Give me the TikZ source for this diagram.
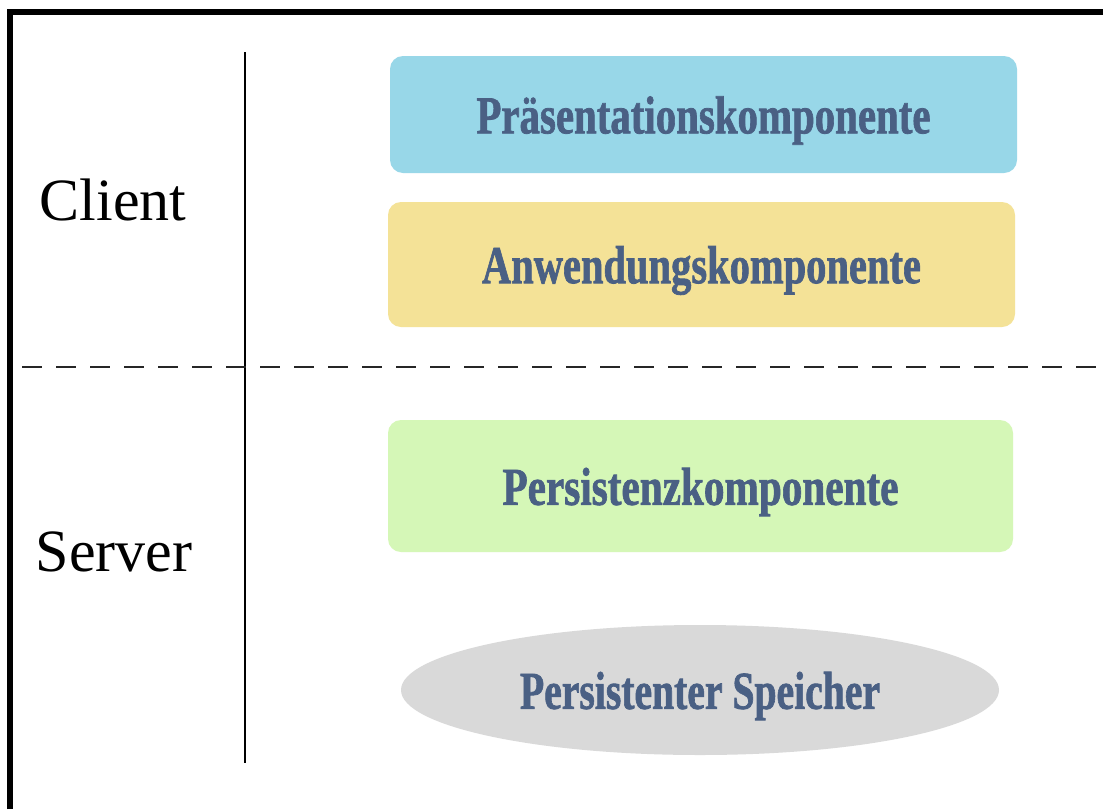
\documentclass[tikz,border=0pt]{standalone}
\usepackage{fontspec}
\setmainfont{Liberation Serif}
\newfontfamily\compfont[FakeBold=1.5]{Liberation Serif}
\usetikzlibrary{shapes.geometric}
\definecolor{txtblue}{RGB}{74,96,132}
\definecolor{cblue}{RGB}{152,215,232}
\definecolor{cyellow}{RGB}{244,226,151}
\definecolor{cgreen}{RGB}{213,247,183}
\definecolor{cgray}{RGB}{217,217,217}
\newcommand\comptxt[2]{\raisebox{-6pt}[\height][\depth]{\resizebox{#1}{37pt}{\compfont\bfseries #2}}}
\tikzset{
  compbox/.style={rectangle, rounded corners=13pt, inner sep=0pt, text=txtblue},
  storebox/.style={ellipse, inner sep=0pt, text=txtblue},
  sidelabel/.style={inner sep=0pt, font=\fontsize{60}{70}\selectfont, text=black},
}
\begin{document}
\begin{tikzpicture}[x=1pt,y=-1pt]
\useasboundingbox (0,0) rectangle (1103,809);
\fill[white] (0,0) rectangle (1103,809);
% frame (left and top edges)
\draw[line width=6pt, line join=miter] (10,809) -- (10,12) -- (1103,12);
% separators
\coordinate (vtop) at (245,52);
\coordinate (vbot) at (245,763);
\coordinate (hleft) at (22,367);
\coordinate (hright) at (1103,367);
\draw[line width=1.6pt] (vtop) -- (vbot);
\draw[line width=1.8pt, black!85, dash pattern=on 20pt off 14pt] (hleft) -- (hright);
% labels
\node[sidelabel] (client) at (113,200) {Client};
\node[sidelabel] (server) at (114,552) {Server};
% components
\node[compbox, fill=cblue, minimum width=627pt, minimum height=117pt] (praes) at (703.5,114.5)
  {\comptxt{454pt}{Präsentationskomponente}};
\node[compbox, fill=cyellow, minimum width=627pt, minimum height=125pt] (anw) at (701.5,264.5)
  {\comptxt{439pt}{Anwendungskomponente}};
\node[compbox, fill=cgreen, minimum width=625pt, minimum height=132pt] (pers) at (700.5,486)
  {\comptxt{396pt}{Persistenzkomponente}};
\node[storebox, fill=cgray, minimum width=598pt, minimum height=130pt] (store) at (700,690)
  {\comptxt{360pt}{Persistenter Speicher}};
\end{tikzpicture}
\end{document}
